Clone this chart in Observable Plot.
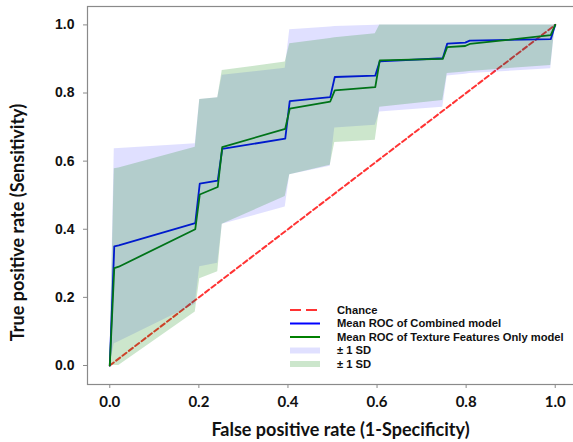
<!DOCTYPE html>
<html><head><meta charset="utf-8">
<script src="https://cdn.jsdelivr.net/npm/d3@7"></script>
<script src="https://cdn.jsdelivr.net/npm/@observablehq/plot@0.6"></script>
<style>
body{margin:0;background:#fff;}
#wrap{position:relative;width:573px;height:442px;overflow:hidden;}
#legend{position:absolute;left:282px;top:300px;}
</style></head><body><div id="wrap"></div>
<script>
// Shared false-positive-rate grid
const fpr = [0, 0.0101, 0.0202, 0.1919, 0.2020, 0.2424, 0.2525, 0.3939, 0.4040, 0.4949, 0.5051, 0.5960, 0.6061, 0.7475, 0.7576, 0.7980, 0.8081, 0.9899, 1.0];
// Mean ROC curves
const tprCombined = [0, 0.350, 0.353, 0.418, 0.534, 0.543, 0.636, 0.666, 0.776, 0.788, 0.847, 0.851, 0.893, 0.902, 0.945, 0.948, 0.954, 0.958, 1.0];
const tprTexture  = [0, 0.286, 0.290, 0.400, 0.502, 0.524, 0.641, 0.695, 0.754, 0.775, 0.808, 0.817, 0.896, 0.900, 0.935, 0.938, 0.944, 0.970, 1.0];
// ±1 SD bands
const combinedUpper = [0, 0.636, 0.637, 0.651, 0.781, 0.786, 0.852, 0.873, 0.986, 0.994, 0.995, 0.999, 1, 1, 1, 1, 1, 1, 1];
const combinedLower = [0, 0.064, 0.070, 0.180, 0.290, 0.300, 0.415, 0.465, 0.560, 0.585, 0.697, 0.705, 0.744, 0.758, 0.850, 0.855, 0.857, 0.871, 1];
const textureUpper  = [0, 0.578, 0.580, 0.641, 0.781, 0.786, 0.866, 0.891, 0.945, 0.960, 0.962, 0.974, 1, 1, 1, 1, 1, 1, 1];
const textureLower  = [0, 0.000, 0.000, 0.157, 0.255, 0.275, 0.415, 0.496, 0.560, 0.588, 0.655, 0.661, 0.758, 0.778, 0.857, 0.862, 0.863, 0.881, 1];
// Chance line
const chanceX = [0, 1];
const chanceY = [0, 1];
// Ticks
const xTicks = [0, 0.2, 0.4, 0.6, 0.8, 1.0];
const yTicks = [0, 0.2, 0.4, 0.6, 0.8, 1.0];
// Legend
const legendLabels = ["Chance", "Mean ROC of Combined model", "Mean ROC of Texture Features Only model", "\u00b1 1 SD", "\u00b1 1 SD"];
const legendKinds = ["dash", "line", "line", "rect", "rect"];
const legendColors = ["#ff0000", "#0000ff", "#008000", "#0000ff", "#008000"];
const legendOpacity = [0.8, 1, 1, 0.12, 0.2];

const rows = fpr.map((x, i) => ({
  fpr: x, combined: tprCombined[i], texture: tprTexture[i],
  cLo: combinedLower[i], cHi: combinedUpper[i], tLo: textureLower[i], tHi: textureUpper[i]
}));
const chance = chanceX.map((x, i) => ({x, y: chanceY[i]}));

const fmt = d3.format(".1f");
const plot = Plot.plot({
  width: 573, height: 442,
  marginLeft: 87, marginRight: -4, marginTop: 6, marginBottom: 58,
  x: {domain: [-0.05, 1.05]},
  y: {domain: [-0.0558, 1.054]},
  style: {background: "#fff"},
  marks: [
    Plot.line(chance, {x: "x", y: "y", stroke: "#ff0000", strokeOpacity: 0.8, strokeWidth: 2, strokeDasharray: "5,3"}),
    Plot.line(rows, {x: "fpr", y: "combined", stroke: "#0000ff", strokeWidth: 1.8}),
    Plot.line(rows, {x: "fpr", y: "texture", stroke: "#008000", strokeWidth: 1.8}),
    Plot.areaY(rows, {x: "fpr", y1: "cLo", y2: "cHi", fill: "#0000ff", fillOpacity: 0.12}),
    Plot.areaY(rows, {x: "fpr", y1: "tLo", y2: "tHi", fill: "#008000", fillOpacity: 0.2}),
    Plot.frame({stroke: "#8a8a8a", strokeWidth: 1.2}),
    Plot.axisX({ticks: xTicks, tickFormat: fmt, label: null, tickSize: 4, tickPadding: 8, stroke: "#8a8a8a",
      fontSize: 15, fontWeight: "bold", fontFamily: "Lato", fill: "#111"}),
    Plot.axisY({ticks: yTicks, tickFormat: fmt, label: null, tickSize: 4, tickPadding: 9, stroke: "#8a8a8a",
      fontSize: 14, fontWeight: "bold", fontFamily: "Liberation Sans, Arial", fill: "#111"}),
    Plot.text(["False positive rate (1-Specificity)"], {frameAnchor: "bottom", text: d => d, dy: 46, dx: 8,
      lineAnchor: "middle", fontSize: 18, fontWeight: "bold", fontFamily: "Lato", fill: "#111"}),
    Plot.text(["True positive rate (Sensitivity)"], {frameAnchor: "left", text: d => d, rotate: -90, dx: -69, dy: 27,
      textAnchor: "middle", lineAnchor: "middle", fontSize: 18, fontWeight: "bold", fontFamily: "Lato", fill: "#111"})
  ]
});
const wrap = document.getElementById("wrap");
wrap.appendChild(plot);

// Legend overlay
const lg = d3.select(wrap).append("svg").attr("id", "legend").attr("width", 291).attr("height", 80);
const rowH = 13.5;
legendLabels.forEach((lab, i) => {
  const g = lg.append("g").attr("transform", `translate(0,${10 + i * rowH})`);
  if (legendKinds[i] === "rect") {
    g.append("rect").attr("x", 8).attr("y", -3).attr("width", 30).attr("height", 6)
      .attr("fill", legendColors[i]).attr("fill-opacity", legendOpacity[i]);
  } else {
    g.append("line").attr("x1", 8).attr("x2", 38).attr("y1", 0).attr("y2", 0)
      .attr("stroke", legendColors[i]).attr("stroke-opacity", legendOpacity[i]).attr("stroke-width", 2)
      .attr("stroke-dasharray", legendKinds[i] === "dash" ? "11,5" : null);
  }
  g.append("text").attr("x", 55).attr("y", 0).attr("dy", "0.35em").text(lab)
    .attr("font-family", "Liberation Sans, Arial").attr("font-weight", "bold").attr("font-size", 11.2).attr("fill", "#111");
});
</script></body></html>
